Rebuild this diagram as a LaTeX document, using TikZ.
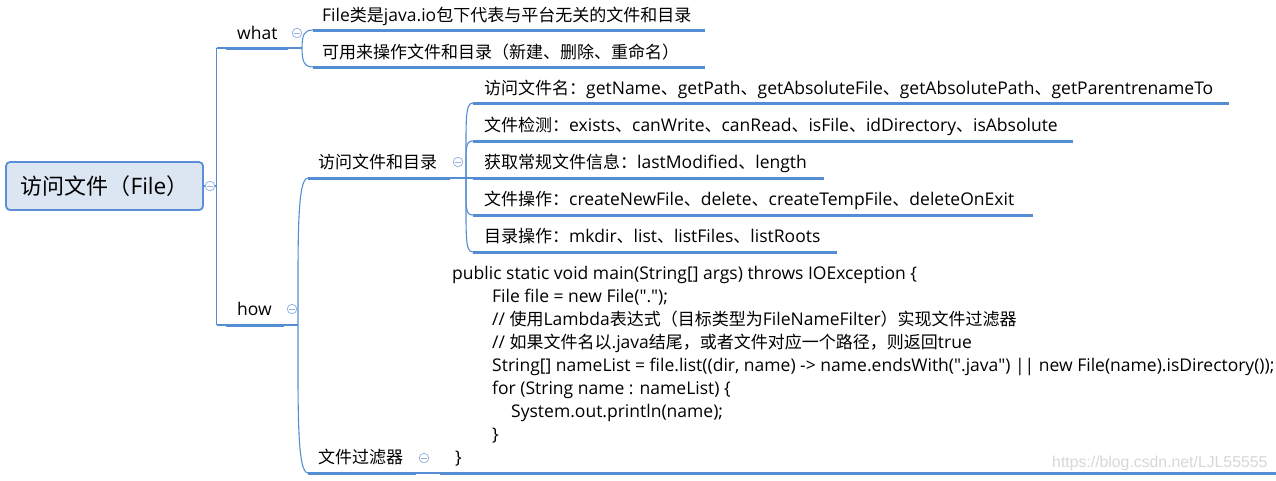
\documentclass[tikz,border=0pt]{standalone}
\usepackage{fontspec}
\setmainfont{Open Sans}[Ligatures=TeXOff, Scale=1.03]
\newfontfamily\latinfont{Open Sans}[Ligatures=TeXOff, Scale=1.03]
\newfontfamily\cjkfont{Noto Sans CJK SC}
\newfontfamily\wmfont{Liberation Sans}
\XeTeXinterchartokenstate=1
\newXeTeXintercharclass\CJKcls
\newcount\cjkcc
\def\setcjkcls#1#2{\cjkcc=#1 \loop\XeTeXcharclass\cjkcc=\CJKcls\ifnum\cjkcc<#2 \advance\cjkcc by 1 \repeat}
\setcjkcls{"3000}{"303F}
\setcjkcls{"4E00}{"9FFF}
\setcjkcls{"FF00}{"FFEF}
\XeTeXinterchartoks 0 \CJKcls = {\cjkfont}
\XeTeXinterchartoks 4095 \CJKcls = {\cjkfont}
\XeTeXinterchartoks \CJKcls 0 = {\latinfont}
\XeTeXinterchartoks \CJKcls 4095 = {\latinfont}
\definecolor{lineblue}{RGB}{84,141,212}
\definecolor{rootfill}{RGB}{220,230,242}
\definecolor{rootdraw}{RGB}{91,142,214}
\definecolor{togblue}{RGB}{150,180,226}
\definecolor{wmgray}{RGB}{215,215,215}
\tikzset{
  ul/.style={draw=lineblue, line width=3pt},
  conn/.style={draw=lineblue, line width=1.1pt},
  rootbox/.style={draw=rootdraw, fill=rootfill, line width=1.8pt, rounded corners=4pt,
    minimum width=197pt, minimum height=48pt, inner sep=0pt,
    font=\fontsize{22}{26}\selectfont},
  lbl/.style={anchor=base west, inner sep=0pt, font=\fontsize{17}{20}\selectfont},
  codeline/.style={anchor=base west, inner sep=0pt, font=\fontsize{17}{20}\selectfont},
  tog/.style={circle, draw=togblue, fill=white, line width=0.8pt, minimum size=9.5pt, inner sep=0pt,
    path picture={\draw[togblue, line width=0.8pt] ([xshift=-2.6pt]path picture bounding box.center) -- ([xshift=2.6pt]path picture bounding box.center);}},
  wm/.style={anchor=base west, inner sep=0pt, text=wmgray, font=\wmfont\fontsize{15.8}{18}\selectfont}
}
\begin{document}
\begin{tikzpicture}[x=1pt,y=-1pt]
\useasboundingbox (0,0) rectangle (1276,480);

% root
\node[rootbox] (root) at (104.5,186) {访问文件（File）};

% trunk
\coordinate (trk-mid) at (216.5,186);
\coordinate (trk-top) at (216.5,48);
\coordinate (trk-bot) at (216.5,325);
\draw[conn] (root.east) -- (trk-mid);
\draw[conn] (trk-top) -- (trk-bot);

% what
\coordinate (what-l) at (226,48);
\coordinate (what-r) at (288,48);
\coordinate (what-j) at (302,48);
\node[lbl] (what) at (237,39) {what};
\draw[conn] (trk-top) -- (what-l);
\draw[ul] (what-l) -- (what-r);
\draw[conn] (what-r) -- (what-j);

\coordinate (w1-l) at (313,30);
\coordinate (w1-r) at (705,30);
\coordinate (w2-l) at (313,67);
\coordinate (w2-r) at (705,67);
\node[lbl] (w1) at (322,21) {File类是java.io包下代表与平台无关的文件和目录};
\node[lbl] (w2) at (322,58) {可用来操作文件和目录（新建、删除、重命名）};
\draw[conn] (what-j) .. controls +(0,-13) and +(-9,0) .. (w1-l);
\draw[conn] (what-j) .. controls +(0,13) and +(-9,0) .. (w2-l);
\draw[ul] (w1-l) -- (w1-r);
\draw[ul] (w2-l) -- (w2-r);

% how
\coordinate (how-l) at (226,325);
\coordinate (how-r) at (284,325);
\coordinate (how-j) at (298,325);
\node[lbl] (how) at (237,315) {how};
\draw[conn] (trk-bot) -- (how-l);
\draw[ul] (how-l) -- (how-r);
\draw[conn] (how-r) -- (how-j);

% 访问文件和目录
\coordinate (d-l) at (308,178);
\coordinate (d-r) at (450,178);
\coordinate (d-j) at (466,178);
\node[lbl] (dir) at (318,168) {访问文件和目录};
\draw[conn] (how-j) .. controls +(0,-85) and +(-11,0) .. (d-l);
\draw[ul] (d-l) -- (d-r);
\draw[conn] (d-r) -- (d-j);

% 文件过滤器
\coordinate (f-l) at (308,473);
\coordinate (f-r) at (416,473);
\coordinate (c-l) at (440,473);
\coordinate (c-r) at (1276,473);
\node[lbl] (flt) at (318,463) {文件过滤器};
\draw[conn] (how-j) .. controls +(0,85) and +(-11,0) .. (f-l);
\draw[ul] (f-l) -- (f-r);
\draw[conn] (f-r) -- (c-l);
\draw[ul] (c-l) -- (c-r);

% children of 访问文件和目录
\coordinate (c1-l) at (473,103);
\coordinate (c1-r) at (1229,103);
\coordinate (c2-l) at (473,141);
\coordinate (c2-r) at (1073,141);
\coordinate (c3-l) at (473,178);
\coordinate (c3-r) at (824,178);
\coordinate (c4-l) at (473,215);
\coordinate (c4-r) at (1033,215);
\coordinate (c5-l) at (473,252);
\coordinate (c5-r) at (837,252);
\node[lbl] (c1) at (484,94) {访问文件名：getName、getPath、getAbsoluteFile、getAbsolutePath、getParentrenameTo};
\node[lbl] (c2) at (484,131) {文件检测：exists、canWrite、canRead、isFile、idDirectory、isAbsolute};
\node[lbl] (c3) at (484,168) {获取常规文件信息：lastModified、length};
\node[lbl] (c4) at (484,205) {文件操作：createNewFile、delete、createTempFile、deleteOnExit};
\node[lbl] (c5) at (484,242) {目录操作：mkdir、list、listFiles、listRoots};
\draw[conn] (d-j) .. controls +(0,-60) and +(-8,0) .. (c1-l);
\draw[conn] (d-j) .. controls +(0,-30) and +(-8,0) .. (c2-l);
\draw[conn] (d-j) -- (c3-l);
\draw[conn] (d-j) .. controls +(0,30) and +(-8,0) .. (c4-l);
\draw[conn] (d-j) .. controls +(0,60) and +(-8,0) .. (c5-l);
\foreach \i in {1,...,5} {\draw[ul] (c\i-l) -- (c\i-r);}

% code
\node[codeline] (k1) at (452,279) {public static void main(String[] args) throws IOException \{};
\node[codeline] (k2) at (492,302) {File file = new File(".");};
\node[codeline] (k3) at (492,325) {// 使用Lambda表达式（目标类型为FileNameFilter）实现文件过滤器};
\node[codeline] (k4) at (492,348) {// 如果文件名以.java结尾，或者文件对应一个路径，则返回true};
\node[codeline] (k5) at (492,371) {String[] nameList = file.list((dir, name) -> name.endsWith(".java") || new File(name).isDirectory());};
\node[codeline] (k6) at (492,394) {for (String name : nameList) \{};
\node[codeline] (k7) at (511,417) {System.out.println(name);};
\node[codeline] (k8) at (492,440) {\}};
\node[codeline] (k9) at (455,463) {\}};

% watermark
\node[wm] (wm) at (1052,467) {https://blog.csdn.net/LJL55555};

% toggles
\node[tog] (t0) at (210,186) {};
\node[tog] (t1) at (297,33) {};
\node[tog] (t2) at (292,309) {};
\node[tog] (t3) at (458,162) {};
\node[tog] (t4) at (424,458) {};
\end{tikzpicture}
\end{document}
